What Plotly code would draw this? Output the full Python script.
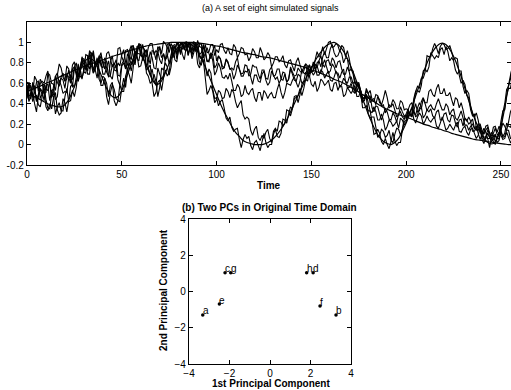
import plotly.graph_objects as go

W, H_PX = 511, 390

# time grids: smooth curves every 2 units, noisy observations every unit
t_smooth = list(range(0, 257, 2))
t_noisy = list(range(0, 257))

# smooth broad hump
hump = [.52, .535, .55, .565, .58, .60, .615, .63, .65, .67, .685, .70, .72, .735, .75, .765, .78, .79, .805, .82,
        .83, .84, .855, .87, .88, .89, .905, .92, .93, .94, .95, .96, .97, .975, .98, .985, .99, .995, 1, 1,
        1, 1, 1, 1, 1, .995, .99, .985, .98, .97, .965, .96, .95, .94, .93, .92, .91, .90, .895, .885,
        .88, .87, .86, .855, .85, .84, .83, .82, .81, .80, .79, .78, .77, .76, .745, .73, .72, .705, .69, .675,
        .66, .64, .625, .61, .59, .57, .55, .53, .50, .48, .46, .43, .41, .385, .365, .345, .33, .31, .295, .28,
        .27, .255, .24, .225, .21, .195, .185, .17, .16, .15, .135, .125, .11, .10, .09, .08, .07, .06, .05, .045,
        .04, .03, .025, .02, .015, .01, .005, 0, 0]

# smooth oscillating (chirp-like) signal
chirp = [.50, .49, .47, .45, .43, .41, .39, .38, .37, .37, .39, .44, .52, .62, .72, .80, .84, .84, .80, .73,
         .64, .55, .49, .46, .47, .53, .63, .74, .84, .89, .88, .82, .73, .64, .59, .60, .66, .75, .84, .91,
         .96, .99, 1.0, .99, .96, .91, .84, .76, .67, .58, .49, .40, .32, .25, .18, .12, .08, .04, .02, .01,
         .00, .00, .00, .01, .03, .06, .10, .15, .21, .28, .36, .44, .52, .60, .68, .75, .82, .88, .93, .97,
         .99, 1.0, .98, .94, .88, .80, .71, .61, .50, .40, .30, .21, .13, .07, .03, .01, .00, .02, .06, .13,
         .21, .31, .42, .53, .64, .75, .84, .91, .96, .99, .99, .96, .90, .82, .72, .61, .49, .37, .26, .17,
         .09, .04, .01, .01, .06, .18, .36, .58, .76]

# noisy observations, one value per time unit
sig_n1 = [.55, .42, .47, .51, .40, .32, .48, .54, .49, .53, .37, .33, .40, .35, .46, .51, .34, .29, .31, .45,
          .41, .32, .43, .57, .59, .56, .66, .79, .67, .65, .72, .88, .87, .78, .90, .88, .78, .85, .74, .58,
          .58, .65, .60, .47, .58, .61, .43, .38, .43, .42, .55, .65, .56, .73, .80, .72, .84, .92, .84, .82,
          .92, .98, .90, .70, .67, .60, .62, .69, .62, .47, .56, .75, .73, .80, .76, .68, .76, .92, .96, .84,
          .93, .99, .97, .93, .99, .87, .94, .99, 1.0, .99, .94, .79, .78, .90, .78, .67, .74, .70, .54, .45,
          .46, .38, .42, .44, .36, .26, .23, .27, .17, .13, .15, .16, .05, -.03, .05, .10, .06, .08, -.01, -.05,
          .02, .04, -.01, -.06, .03, .11, .02, -.03, .00, .00, .10, .15, .08, .07, .11, .25, .24, .21, .30, .37,
          .35, .47, .48, .41, .49, .59, .62, .63, .71, .78, .71, .72, .83, .91, .86, .88, .96, .88, .94, 1.0,
          1.01, .95, .96, .99, .97, .91, .97, .95, .86, .92, .84, .73, .72, .61, .58, .61, .52, .36, .36, .38,
          .33, .33, .22, .10, .11, .15, .11, .03, .00, .06, .00, -.04, .03, .12, .04, -.01, .02, .02, .14, .22,
          .24, .34, .29, .29, .39, .52, .57, .55, .65, .65, .71, .87, .86, .86, .94, .99, .95, .89, .96, .99,
          .98, .93, .94, .97, .91, .83, .85, .84, .68, .60, .63, .59, .48, .46, .34, .28, .30, .16, .18, .19,
          .07, .04, .07, .06, -.03, .07, .03, .00, .07, .05, .15, .31, .40, .54, .57, .64, .78]

sig_n2 = [.46, .59, .56, .42, .47, .48, .39, .37, .47, .57, .44, .36, .35, .50, .47, .30, .37, .41, .33, .33,
          .47, .55, .42, .43, .53, .47, .56, .73, .75, .64, .74, .77, .72, .90, .84, .73, .79, .77, .64, .60,
          .67, .65, .47, .39, .51, .59, .54, .45, .43, .59, .52, .52, .67, .73, .68, .60, .75, .91, .88, .76,
          .77, .85, .81, .73, .75, .78, .60, .47, .51, .61, .63, .53, .65, .73, .67, .71, .86, .97, .83, .81,
          .94, .96, .88, .83, .96, .99, .92, .89, .93, .96, .79, .75, .83, .83, .66, .49, .53, .58, .52, .41,
          .44, .53, .51, .45, .46, .55, .52, .46, .54, .51, .42, .36, .40, .43, .29, .25, .27, .25, .14, .09,
          .15, .18, .07, .04, .09, .06, .12, .15, .06, .02, .13, .16, .13, .23, .22, .18, .21, .34, .33, .28,
          .35, .45, .46, .48, .55, .48, .55, .64, .62, .73, .72, .68, .71, .80, .82, .76, .86, .91, .85, .85,
          .94, .98, .90, .86, .87, .92, .89, .80, .85, .84, .72, .74, .69, .59, .61, .58, .47, .41, .45, .46,
          .30, .26, .27, .27, .17, .07, .09, .15, .13, .07, .09, .14, .04, .02, .10, .16, .15, .09, .15, .26,
          .26, .32, .29, .30, .45, .52, .53, .51, .58, .72, .74, .71, .76, .90, .87, .84, .87, .85, .93, .95,
          .88, .96, .91, .82, .85, .82, .73, .69, .72, .72, .57, .50, .53, .50, .38, .30, .27, .31, .24, .13,
          .13, .10, .14, .17, .07, .06, .11, .16, .10, .10, .23, .33, .34, .48, .55, .55, .65]

sig_n3 = [.58, .47, .49, .59, .57, .43, .49, .60, .62, .60, .67, .72, .59, .46, .57, .67, .70, .60, .66, .70,
          .62, .64, .73, .65, .78, .81, .70, .67, .76, .84, .71, .70, .86, .87, .77, .70, .76, .78, .85, .90,
          .79, .74, .89, .91, .84, .76, .80, .75, .94, .95, .86, .81, .92, .93, .87, .83, .97, .88, .88, .97,
          .98, .82, .88, .86, .95, .99, .99, .88, .92, .90, .96, .89, 1.01, .99, .95, .90, .99, .95, .96, .88,
          .98, .90, .94, .96, 1.01, .88, .97, .92, .95, .91, 1.02, .96, .95, .87, .98, .90, .91, .98, .98, .87,
          .93, .90, .98, .99, .92, .89, .95, .89, .88, .98, .95, .85, .89, .95, .94, .88, .89, .82, .86, .94,
          .91, .85, .85, .95, .90, .83, .85, .90, .87, .76, .80, .86, .86, .81, .83, .87, .78, .75, .82, .83,
          .77, .72, .81, .85, .78, .72, .72, .79, .77, .69, .72, .81, .76, .68, .68, .73, .71, .65, .69, .72,
          .63, .62, .66, .72, .67, .56, .59, .65, .62, .56, .56, .60, .52, .50, .57, .58, .52, .45, .46, .55,
          .50, .41, .44, .45, .39, .47, .44, .38, .39, .31, .34, .39, .37, .40, .34, .27, .29, .37, .32, .28,
          .29, .27, .32, .36, .25, .21, .27, .31, .28, .20, .23, .28, .24, .22, .25, .27, .18, .16, .21, .27,
          .21, .14, .16, .20, .17, .14, .19, .22, .13, .12, .16, .18, .12, .09, .15, .16, .11, .06, .09, .16,
          .12, .07, .08, .14, .12, .05, .08, .10, .06, .12, .09, .05, .06, .12, .07, .02, .04]

sig_n4 = [.45, .61, .57, .46, .51, .61, .62, .45, .50, .59, .54, .53, .62, .47, .49, .67, .61, .57, .65, .63,
          .55, .69, .66, .60, .74, .76, .68, .62, .69, .86, .81, .76, .78, .74, .86, .89, .73, .65, .80, .87,
          .81, .80, .71, .67, .81, .87, .73, .72, .80, .77, .88, .93, .81, .71, .83, .95, .97, .90, .90, .99,
          .97, .84, .89, .93, .85, .79, .92, .91, .83, .96, .93, .85, .89, .82, .98, .99, .95, .87, .92, .99,
          .96, .88, 1.0, .95, .96, .99, .98, .92, 1.01, .92, .92, .99, .98, .85, .89, .95, .89, .84, .92, .97,
          .82, .87, .84, .74, .75, .83, .80, .74, .73, .64, .69, .78, .74, .67, .67, .72, .71, .74, .66, .59,
          .68, .68, .62, .61, .69, .72, .63, .58, .61, .72, .68, .64, .66, .60, .64, .71, .70, .61, .64, .76,
          .71, .67, .68, .75, .72, .70, .76, .79, .70, .66, .76, .78, .74, .77, .71, .70, .78, .83, .76, .70,
          .72, .79, .76, .70, .70, .65, .71, .74, .62, .60, .66, .66, .60, .51, .52, .58, .52, .46, .45, .49,
          .45, .48, .36, .32, .38, .37, .30, .24, .30, .35, .32, .25, .24, .31, .28, .22, .30, .32, .27, .25,
          .30, .35, .28, .28, .34, .27, .29, .36, .35, .45, .40, .33, .37, .39, .35, .34, .40, .45, .39, .34,
          .34, .40, .37, .29, .33, .35, .26, .24, .28, .33, .26, .19, .19, .14, .18, .20, .16, .18, .11, .05,
          .10, .16, .12, .06, .06, .12, .09, .03, .06, .12, .12, .08, .11, .21, .18, .17, .22]

sig_n5 = [.59, .46, .45, .61, .54, .42, .47, .55, .52, .43, .58, .59, .43, .53, .54, .44, .47, .63, .58, .50,
          .52, .51, .65, .67, .56, .76, .71, .62, .73, .81, .83, .73, .77, .92, .88, .70, .74, .82, .80, .82,
          .69, .69, .76, .82, .67, .64, .76, .76, .63, .58, .77, .80, .74, .89, .85, .78, .83, .78, .93, .98,
          .89, .96, .93, .76, .81, .91, .85, .75, .74, .91, .83, .79, .89, .83, .86, .99, .95, .85, .92, .99,
          .99, .90, .96, .99, .98, .95, 1.0, .87, .94, .99, .98, .88, .90, .98, .92, .82, .81, .90, .82, .68,
          .72, .80, .75, .66, .65, .68, .64, .70, .62, .53, .53, .59, .56, .47, .49, .58, .51, .49, .53, .55,
          .46, .42, .51, .51, .43, .53, .50, .45, .49, .51, .46, .46, .54, .60, .51, .45, .51, .60, .59, .58,
          .63, .66, .61, .56, .62, .74, .70, .69, .75, .78, .71, .72, .79, .75, .82, .87, .78, .76, .82, .83,
          .77, .85, .82, .75, .81, .82, .74, .69, .69, .76, .71, .61, .60, .62, .57, .59, .53, .42, .43, .49,
          .41, .33, .31, .37, .32, .24, .24, .30, .24, .14, .18, .24, .22, .18, .20, .23, .16, .26, .24, .19,
          .22, .30, .31, .27, .33, .40, .32, .33, .42, .46, .41, .41, .52, .54, .49, .47, .55, .59, .50, .50,
          .55, .48, .48, .51, .44, .38, .46, .44, .36, .41, .34, .25, .23, .27, .23, .13, .13, .17, .14, .16,
          .05, .01, .07, .11, .07, .03, .05, .10, .02, .04, .14, .21, .18, .14, .22, .32, .36]

sig_n6 = [.61, .60, .48, .49, .67, .63, .52, .64, .60, .50, .51, .70, .68, .60, .59, .53, .68, .79, .75, .66,
          .62, .77, .74, .63, .64, .76, .80, .66, .72, .84, .84, .80, .69, .69, .84, .92, .78, .78, .87, .77,
          .75, .85, .81, .66, .68, .78, .78, .83, .68, .67, .79, .82, .76, .78, .92, .97, .87, .80, .96, .97,
          .87, .86, .92, .92, .75, .68, .74, .63, .58, .75, .69, .64, .68, .84, .88, .79, .88, .97, .98, .89,
          .94, .99, .99, .93, .92, .99, .98, .84, .90, .98, .95, .86, .84, .96, .90, .81, .83, .89, .88, .75,
          .78, .86, .84, .77, .75, .84, .81, .74, .75, .73, .81, .85, .74, .69, .70, .78, .77, .67, .69, .78,
          .76, .76, .69, .64, .73, .73, .65, .64, .73, .76, .67, .68, .74, .74, .64, .63, .69, .61, .64, .74,
          .69, .63, .62, .69, .67, .60, .62, .71, .68, .67, .59, .57, .62, .52, .56, .64, .62, .58, .60, .63,
          .54, .52, .60, .61, .53, .58, .57, .47, .49, .56, .53, .50, .54, .58, .47, .47, .53, .45, .46, .52,
          .50, .53, .44, .42, .49, .48, .41, .39, .45, .53, .46, .36, .38, .44, .41, .35, .35, .43, .41, .34,
          .35, .34, .39, .41, .31, .29, .36, .41, .37, .26, .29, .34, .32, .35, .28, .26, .32, .34, .24, .24,
          .30, .31, .24, .22, .29, .28, .21, .17, .24, .25, .18, .26, .24, .20, .22, .25, .16, .14, .20, .20,
          .14, .11, .18, .19, .11, .08, .17, .18, .12, .18, .14, .07, .08, .14, .14, .06, .07]

smooth_signals = [hump, chirp]
noisy_signals = [sig_n1, sig_n2, sig_n3, sig_n4, sig_n5, sig_n6]

# principal component scores of the eight signals
pc_names = ["a", "b", "c", "d", "e", "f", "g", "h"]
pc1 = [-3.32, 3.26, -2.22, 2.13, -2.50, 2.47, -1.94, 1.81]
pc2 = [-1.29, -1.29, 1.04, 1.04, -0.69, -0.80, 1.04, 1.04]

FONT = "Liberation Sans, Arial, sans-serif"

fig = go.Figure()

for sig in smooth_signals:
    fig.add_trace(go.Scatter(
        x=t_smooth, y=sig, mode="lines",
        line=dict(color="black", width=1.2, shape="spline"),
        xaxis="x", yaxis="y", showlegend=False, hoverinfo="skip"))

for sig in noisy_signals:
    fig.add_trace(go.Scatter(
        x=t_noisy, y=sig, mode="lines",
        line=dict(color="black", width=1.1),
        xaxis="x", yaxis="y", showlegend=False, hoverinfo="skip"))

fig.add_trace(go.Scatter(
    x=pc1, y=pc2, mode="markers",
    marker=dict(color="black", size=3.5),
    xaxis="x2", yaxis="y2", showlegend=False, hoverinfo="skip"))

# letter labels start at each point, sitting just above it
for name, x, y in zip(pc_names, pc1, pc2):
    fig.add_annotation(text=name, x=x, y=y, xref="x2", yref="y2", showarrow=False,
                       xanchor="left", yanchor="middle", xshift=-2, yshift=4,
                       font=dict(family=FONT, size=10, color="black"))


def px(x):
    return x / W


def py(y):
    return 1 - y / H_PX


axis_common = dict(
    showline=True, linecolor="black", linewidth=1.3, mirror="ticks",
    ticks="inside", ticklen=4, tickwidth=1, tickcolor="black",
    showgrid=False, zeroline=False, automargin=False,
    tickfont=dict(family=FONT, size=10, color="black"),
)

fig.update_layout(
    width=W, height=H_PX, autosize=False,
    margin=dict(l=0, r=0, t=0, b=0),
    paper_bgcolor="white", plot_bgcolor="white",
    xaxis=dict(domain=[px(27), 1.0], range=[0, 255.3],
               tickvals=[0, 50, 100, 150, 200, 250], anchor="y", **axis_common),
    yaxis=dict(domain=[py(165), py(22)], range=[-0.2, 1.2],
               tickvals=[-0.2, 0, 0.2, 0.4, 0.6, 0.8, 1],
               ticktext=["-0.2", "0", "0.2", "0.4", "0.6", "0.8", "1"], anchor="x", **axis_common),
    xaxis2=dict(domain=[px(189), px(351)], range=[-4, 4],
                tickvals=[-4, -2, 0, 2, 4], anchor="y2", **axis_common),
    yaxis2=dict(domain=[py(364), py(219)], range=[-4, 4],
                tickvals=[-4, -2, 0, 2, 4], anchor="x2", **axis_common),
)

labels = [
    ("(a) A set of eight simulated signals", 270, 8, 9, 0),
    ("<b>Time</b>", 269, 185, 10, 0),
    ("<b>(b) Two PCs in Original Time Domain</b>", 269, 207, 10, 0),
    ("<b>1st Principal Component</b>", 271, 383, 10, 0),
    ("<b>2nd Principal Component</b>", 163, 290, 10, -90),
]
for txt, x, y, size, ang in labels:
    fig.add_annotation(text=txt, x=px(x), y=py(y), xref="paper", yref="paper",
                       showarrow=False, textangle=ang, xanchor="center", yanchor="middle",
                       font=dict(family=FONT, size=size, color="black"))

fig.write_html("out.html")
